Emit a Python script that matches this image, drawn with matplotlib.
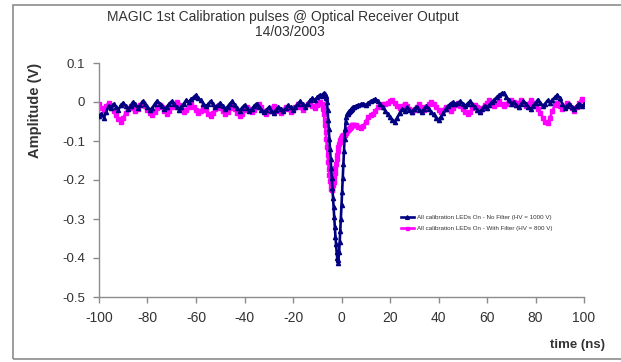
import numpy as np
import matplotlib
matplotlib.use("Agg")
import matplotlib.pyplot as plt
from matplotlib.patches import Rectangle

plt.rcParams["font.family"] = ["Liberation Sans", "DejaVu Sans"]

# time sampling (ns): 1 ns outside the pulse, 0.25 ns around it
time_left = np.arange(-100, -7, 1.0)
time_mid = np.arange(-7.75, 5.0, 0.25)
time_right = np.arange(5, 101, 1.0)
time_ns = np.concatenate([time_left, time_mid, time_right])

navy_left = [
    -0.035, -0.030, -0.040, -0.025, -0.010, -0.015, -0.005, -0.012, -0.020, -0.008,
    -0.002, -0.010, -0.018, -0.010, 0.000, -0.005, -0.015, -0.008, 0.002, -0.006,
    -0.012, -0.020, -0.015, -0.005, 0.003, -0.004, -0.010, -0.018, -0.012, -0.004,
    0.002, -0.006, -0.014, -0.020, -0.012, -0.004, 0.005, 0.000, 0.008, 0.012,
    0.018, 0.010, 0.004, -0.004, -0.010, -0.006, 0.002, -0.006, -0.014, -0.008,
    -0.002, -0.010, -0.018, -0.012, -0.004, 0.002, -0.008, -0.016, -0.022, -0.015,
    -0.008, -0.016, -0.024, -0.018, -0.010, -0.004, -0.012, -0.020, -0.026, -0.020,
    -0.014, -0.022, -0.028, -0.020, -0.012, -0.018, -0.024, -0.016, -0.008, -0.014,
    -0.020, -0.012, -0.004, 0.002, -0.006, -0.012, -0.004, 0.004, 0.010, 0.005,
    0.012, 0.018, 0.015,
]
navy_mid = [
    0.020, 0.018, 0.022, 0.019, 0.020, 0.016, 0.010, 0.000,
    -0.020, -0.045, -0.070, -0.095, -0.120, -0.145, -0.170, -0.195,
    -0.220, -0.245, -0.270, -0.295, -0.320, -0.345, -0.365, -0.385,
    -0.400, -0.412, -0.405, -0.385, -0.360, -0.330, -0.300, -0.265,
    -0.230, -0.195, -0.160, -0.125, -0.095, -0.070, -0.050, -0.038,
    -0.032, -0.030, -0.028, -0.025, -0.024, -0.022, -0.020, -0.018,
    -0.017, -0.015, -0.013,
]
navy_right = [
    -0.012, -0.010, -0.008, -0.006, -0.004, -0.008, -0.002, 0.002, 0.004, 0.008,
    0.002, -0.006, -0.014, -0.022, -0.030, -0.038, -0.046, -0.050, -0.040, -0.028,
    -0.018, -0.022, -0.014, -0.020, -0.026, -0.018, -0.012, -0.020, -0.026, -0.018,
    -0.010, -0.018, -0.026, -0.032, -0.040, -0.046, -0.038, -0.028, -0.018, -0.010,
    -0.004, 0.000, -0.006, -0.002, 0.002, -0.004, -0.010, -0.004, 0.002, -0.006,
    -0.014, -0.020, -0.026, -0.018, -0.010, -0.016, -0.008, 0.000, 0.006, 0.012,
    0.018, 0.022, 0.023, 0.014, 0.004, -0.006, 0.000, -0.008, -0.014, -0.006,
    0.002, -0.004, -0.012, -0.018, -0.010, -0.002, 0.006, -0.002, -0.010, -0.004,
    0.004, -0.002, 0.006, 0.012, 0.018, 0.010, -0.004, -0.016, -0.010, -0.004,
    -0.012, -0.018, -0.010, -0.004, -0.010, -0.006,
]

pink_left = [
    -0.005, -0.015, -0.022, -0.010, -0.002, -0.012, -0.024, -0.034, -0.044, -0.050,
    -0.040, -0.028, -0.018, -0.010, -0.016, -0.024, -0.018, -0.008, -0.002, -0.010,
    -0.020, -0.028, -0.034, -0.026, -0.016, -0.008, -0.014, -0.022, -0.030, -0.022,
    -0.012, -0.004, 0.000, -0.008, -0.018, -0.026, -0.020, -0.012, -0.006, -0.012,
    -0.020, -0.028, -0.022, -0.014, -0.020, -0.030, -0.036, -0.028, -0.018, -0.010,
    -0.016, -0.024, -0.032, -0.026, -0.016, -0.010, -0.018, -0.028, -0.036, -0.030,
    -0.020, -0.012, -0.018, -0.026, -0.020, -0.012, -0.006, -0.014, -0.024, -0.030,
    -0.024, -0.016, -0.010, -0.016, -0.024, -0.028, -0.020, -0.012, -0.018, -0.026,
    -0.020, -0.012, -0.006, -0.012, -0.020, -0.014, -0.006, -0.002, -0.010, -0.016,
    -0.008, 0.000, -0.004,
]
pink_mid = [
    -0.010, -0.018, -0.030, -0.045, -0.060, -0.078, -0.096, -0.115,
    -0.135, -0.155, -0.172, -0.188, -0.202, -0.214, -0.222, -0.226,
    -0.222, -0.214, -0.204, -0.193, -0.182, -0.170, -0.158, -0.146,
    -0.135, -0.125, -0.116, -0.108, -0.102, -0.097, -0.093, -0.090,
    -0.088, -0.086, -0.085, -0.084, -0.084, -0.083, -0.080, -0.077,
    -0.074, -0.072, -0.070, -0.069, -0.068, -0.066, -0.064, -0.062,
    -0.060, -0.058, -0.058,
]
pink_right = [
    -0.058, -0.060, -0.064, -0.066, -0.062, -0.050, -0.038, -0.034, -0.030, -0.022,
    -0.012, -0.008, -0.004, -0.006, -0.002, 0.002, 0.005, -0.002, -0.010, -0.016,
    -0.010, -0.004, -0.010, -0.018, -0.026, -0.020, -0.012, -0.006, -0.012, -0.020,
    -0.014, -0.006, 0.000, -0.006, -0.014, -0.020, -0.026, -0.020, -0.012, -0.018,
    -0.024, -0.016, -0.008, -0.002, -0.010, -0.018, -0.026, -0.032, -0.026, -0.016,
    -0.008, -0.014, -0.022, -0.016, -0.008, -0.002, 0.004, -0.002, -0.010, -0.004,
    0.002, -0.004, -0.010, -0.004, 0.002, 0.006, 0.000, -0.008, -0.002, 0.004,
    -0.002, -0.010, -0.004, 0.004, -0.002, -0.010, -0.018, -0.028, -0.040, -0.052,
    -0.055, -0.040, -0.022, -0.008, -0.002, -0.010, -0.018, -0.010, -0.002, -0.008,
    -0.016, -0.022, -0.012, -0.002, 0.008, 0.004,
]

navy_v = np.array(navy_left + navy_mid + navy_right)
pink_v = np.array(pink_left + pink_mid + pink_right)

label_navy = "All calibration LEDs On - No Filter (HV = 1000 V)"
label_pink = "All calibration LEDs On - With Filter (HV = 800 V)"
title = "MAGIC 1st Calibration pulses @ Optical Receiver Output"
subtitle = "14/03/2003"

x_ticks = [-100, -80, -60, -40, -20, 0, 20, 40, 60, 80, 100]
y_ticks = [0.1, 0, -0.1, -0.2, -0.3, -0.4, -0.5]

W, H = 621, 362
fig = plt.figure(figsize=(W / 100, H / 100), dpi=100)
fig.patch.set_facecolor("white")

# outer chart border
fig.patches.append(Rectangle((13 / W, 3 / H), 1.0, (357 - 3) / H, transform=fig.transFigure,
                             fill=False, edgecolor="#8c8c8c", linewidth=1.2))

ax = fig.add_axes([99 / W, 1 - 297 / H, (584 - 99) / W, (297 - 63) / H])
ax.plot(time_ns, navy_v, color="#000080", lw=1.9, marker="^", ms=3.0,
        mec="#000080", mfc="#000080", label=label_navy, zorder=3)
ax.plot(time_ns, pink_v, color="#ff00ff", lw=1.9, marker="s", ms=2.4,
        mec="#ff00ff", mfc="#ff00ff", label=label_pink, zorder=2)

ax.set_xlim(-100, 100)
ax.set_ylim(-0.5, 0.1)
ax.set_xticks(x_ticks)
ax.set_yticks(y_ticks)
ax.set_xticklabels([str(v) for v in x_ticks])
ax.set_yticklabels([("%g" % v) for v in y_ticks])
for s in ["top", "right"]:
    ax.spines[s].set_visible(False)
for s in ["left", "bottom"]:
    ax.spines[s].set_color("#8c8c8c")
    ax.spines[s].set_linewidth(1.0)
ax.tick_params(axis="both", direction="out", length=4, width=1, color="#8c8c8c",
               labelcolor="#333333")
ax.tick_params(axis="x", labelsize=10, pad=6)
ax.tick_params(axis="y", labelsize=9.5, pad=6)

leg = ax.legend(loc="upper left", bbox_to_anchor=((398 - 99) / (584 - 99), (297 - 212) / (297 - 63)),
                frameon=False, fontsize=4.5, handlelength=2.2, handletextpad=0.4,
                borderaxespad=0, labelspacing=0.9, markerscale=0.9)
for t in leg.get_texts():
    t.set_color("#333333")

fig.text(283 / W, 1 - 17 / H, title, ha="center", va="center", fontsize=10, color="#333333")
fig.text(290 / W, 1 - 32 / H, subtitle, ha="center", va="center", fontsize=10, color="#333333")
fig.text(35 / W, 1 - 110 / H, "Amplitude (V)", rotation=90, ha="center", va="center",
         fontsize=10.5, fontweight="bold", color="#333333")
fig.text(550 / W, 1 - 345 / H, "time (ns)", ha="left", va="center",
         fontsize=9.5, fontweight="bold", color="#333333")

fig.savefig("out.png", dpi=100)
